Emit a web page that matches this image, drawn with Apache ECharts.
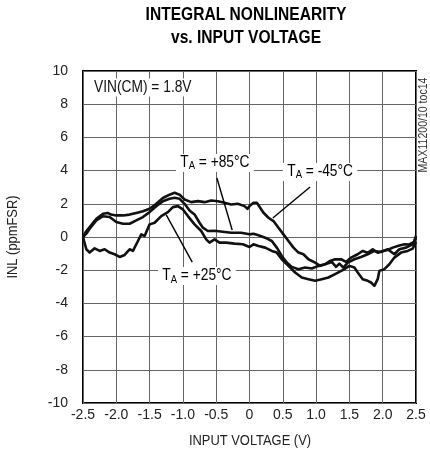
<!DOCTYPE html>
<html>
<head>
<meta charset="utf-8">
<script src="https://cdn.jsdelivr.net/npm/echarts@6/dist/echarts.min.js"></script>
<style>
  html, body { margin: 0; padding: 0; background: #fff; }
  #main { width: 430px; height: 464px; }
</style>
</head>
<body>
<div id="main"></div>
<script>
// x ticks / y ticks
const xTicks = [-2.5, 2.5, 0.5];
const yTicks = [-10, 10, 2];

// INL curves, [input voltage, INL]
const tMinus45 = [
  [-2.5, 0.0], [-2.46, 0.3], [-2.4, 0.6], [-2.3, 1.1], [-2.2, 1.4], [-2.13, 1.45], [-2.08, 1.35],
  [-2.0, 1.3], [-1.9, 1.3], [-1.8, 1.35], [-1.7, 1.45], [-1.6, 1.55], [-1.5, 1.7], [-1.4, 2.0],
  [-1.3, 2.35], [-1.2, 2.55], [-1.125, 2.66], [-1.05, 2.55], [-0.975, 2.26], [-0.875, 2.1],
  [-0.775, 2.16], [-0.675, 2.1], [-0.575, 2.2], [-0.475, 2.15], [-0.375, 2.06], [-0.275, 1.96],
  [-0.175, 2.0], [-0.075, 1.86], [-0.03, 1.7], [0.0, 1.86], [0.06, 2.06], [0.11, 2.06],
  [0.16, 1.76], [0.21, 1.46], [0.285, 1.16], [0.36, 0.96], [0.435, 0.56], [0.51, 0.16],
  [0.585, -0.24], [0.66, -0.64], [0.735, -0.94], [0.81, -1.04], [0.885, -1.34], [0.985, -1.54],
  [1.06, -1.74], [1.135, -1.64], [1.21, -1.44], [1.275, -1.35], [1.375, -1.34], [1.45, -1.5],
  [1.525, -1.24], [1.625, -1.04], [1.7, -0.84], [1.775, -0.95], [1.85, -0.74], [1.925, -0.95],
  [2.0, -0.84], [2.075, -0.78], [2.15, -0.64], [2.225, -0.54], [2.325, -0.44], [2.4, -0.45],
  [2.47, -0.3], [2.5, 0.06]
];
const tPlus85 = [
  [-2.5, 0.0], [-2.45, 0.2], [-2.4, 0.5], [-2.3, 1.0], [-2.2, 1.25], [-2.1, 1.2], [-2.0, 0.9],
  [-1.9, 0.8], [-1.8, 0.8], [-1.7, 1.0], [-1.6, 1.2], [-1.5, 1.5], [-1.4, 1.85], [-1.3, 2.15],
  [-1.2, 2.3], [-1.125, 2.36], [-1.05, 2.3], [-0.975, 2.0], [-0.9, 1.6], [-0.825, 1.36],
  [-0.75, 0.86], [-0.7, 0.56], [-0.625, 0.36], [-0.525, 0.38], [-0.4, 0.32], [-0.275, 0.26],
  [-0.125, 0.26], [0.0, 0.16], [0.06, 0.2], [0.135, 0.1], [0.235, -0.04], [0.335, -0.24],
  [0.41, -0.64], [0.485, -1.14], [0.56, -1.54], [0.635, -1.8], [0.735, -1.94], [0.835, -1.84],
  [0.935, -1.9], [1.035, -1.74], [1.135, -1.64], [1.235, -1.5], [1.3, -1.8], [1.35, -1.6],
  [1.41, -1.85], [1.475, -1.54], [1.575, -1.34], [1.675, -1.2], [1.775, -1.04], [1.875, -0.84],
  [1.975, -0.9], [2.075, -0.74], [2.175, -1.04], [2.25, -0.74], [2.35, -0.64], [2.45, -0.44],
  [2.5, -0.04]
];
const tPlus25 = [
  [-2.5, 0.0], [-2.485, -0.1], [-2.45, -0.74], [-2.4, -0.94], [-2.325, -0.68], [-2.25, -0.84],
  [-2.175, -0.74], [-2.1, -0.94], [-2.025, -1.04], [-1.95, -1.2], [-1.875, -1.08], [-1.8, -0.74],
  [-1.75, -0.84], [-1.675, -0.24], [-1.625, 0.16], [-1.575, 0.06], [-1.5, 0.76], [-1.425, 0.86],
  [-1.325, 1.26], [-1.225, 1.5], [-1.15, 1.8], [-1.075, 1.86], [-1.0, 1.66], [-0.925, 1.26],
  [-0.825, 0.76], [-0.725, 0.36], [-0.65, -0.14], [-0.6, -0.34], [-0.525, -0.14], [-0.45, -0.34],
  [-0.35, -0.34], [-0.225, -0.4], [-0.1, -0.44], [0.0, -0.6], [0.06, -0.44], [0.135, -0.54],
  [0.235, -0.64], [0.335, -0.84], [0.41, -0.94], [0.485, -1.34], [0.585, -1.74], [0.685, -2.14],
  [0.785, -2.44], [0.885, -2.54], [0.985, -2.64], [1.085, -2.54], [1.185, -2.44], [1.285, -2.24],
  [1.4, -2.0], [1.5, -1.74], [1.575, -1.84], [1.625, -2.14], [1.7, -2.54], [1.775, -2.64],
  [1.825, -2.74], [1.875, -2.94], [1.925, -2.54], [1.95, -2.04], [2.025, -1.94], [2.1, -1.64],
  [2.175, -1.24], [2.275, -0.94], [2.375, -0.84], [2.45, -0.7], [2.5, -0.3]
];

// labels: [text key, x, y] in data units, arrows: [from, to]
const labels = [
  ['+85', -0.52, 4.46],
  ['-45', 1.06, 3.92],
  ['+25', -0.79, -2.35]
];
const arrows = [
  [[-0.49, 3.55], [-0.26, 0.42]],
  [[0.91, 3.01], [0.35, 1.14]],
  [[-0.86, -1.51], [-1.25, 1.33]]
];

const FONT = "'Liberation Sans', Arial, sans-serif";
const SQ = 0.86; // horizontal squeeze, the original uses a narrow face

const chart = echarts.init(document.getElementById('main'));

function lineSeries(name, data) {
  return {
    name: name,
    type: 'line',
    data: data,
    showSymbol: false,
    lineStyle: { color: '#111', width: 2.6, join: 'round' },
    z: 3
  };
}

const option = {
  animation: false,
  backgroundColor: '#fff',
  grid: {
    left: 83, right: 14, top: 71, bottom: 61,
    show: true,
    borderColor: '#000',
    borderWidth: 2
  },
  xAxis: {
    type: 'value',
    min: xTicks[0], max: xTicks[1], interval: xTicks[2],
    axisLine: { show: false },
    axisTick: { show: false },
    axisLabel: {
      fontFamily: FONT, fontSize: 14, color: '#222', margin: 5,
      formatter: v => v === 0 ? '0' : v.toFixed(1)
    },
    splitLine: { show: true, lineStyle: { color: '#666', width: 1 } }
  },
  yAxis: {
    type: 'value',
    min: yTicks[0], max: yTicks[1], interval: yTicks[2],
    axisLine: { show: false },
    axisTick: { show: false },
    axisLabel: { fontFamily: FONT, fontSize: 14, color: '#222', margin: 15 },
    splitLine: { show: true, lineStyle: { color: '#666', width: 1 } }
  },
  series: [
    lineSeries('TA = -45°C', tMinus45),
    lineSeries('TA = +85°C', tPlus85),
    lineSeries('TA = +25°C', tPlus25),
    {
      type: 'line',
      data: [],
      markLine: {
        silent: true,
        symbol: ['none', 'arrow'],
        symbolSize: [0, 13],
        label: { show: false },
        lineStyle: { color: '#000', width: 1.4, type: 'solid' },
        data: arrows.map(a => [{ coord: a[0] }, { coord: a[1] }])
      }
    }
  ]
};

chart.setOption(option);

// text placed through the axes, squeezed horizontally
const rich = {
  t: { fontFamily: FONT, fontSize: 16, color: '#111', lineHeight: 18 },
  s: { fontFamily: FONT, fontSize: 11, color: '#111', lineHeight: 18, padding: [7, 0, 0, 0] }
};
const g = labels.map(l => {
  const p = chart.convertToPixel({ seriesIndex: 0 }, [l[1], l[2]]);
  return {
    type: 'text',
    x: p[0], y: p[1], scaleX: SQ,
    z: 10,
    style: {
      text: '{t|T}{s|A}{t| = ' + l[0] + '°C}',
      rich: rich,
      align: 'center',
      verticalAlign: 'middle',
      backgroundColor: '#fff',
      padding: [0, 5]
    }
  };
});
const vin = chart.convertToPixel({ seriesIndex: 0 }, [-2.36, 9.0]);
g.push({
  type: 'text', x: vin[0], y: vin[1], z: 10, scaleX: SQ,
  style: {
    text: 'VIN(CM) = 1.8V', font: '16px ' + FONT, fill: '#111',
    align: 'left', verticalAlign: 'middle', backgroundColor: '#fff', padding: [1, 2]
  }
});
// title
g.push({
  type: 'text', x: 246, y: 15, scaleX: 0.82, z: 10,
  style: { text: 'INTEGRAL NONLINEARITY', font: 'bold 19px ' + FONT, fill: '#000',
    align: 'center', verticalAlign: 'middle' }
});
g.push({
  type: 'text', x: 246, y: 38, scaleX: 0.82, z: 10,
  style: { text: 'vs. INPUT VOLTAGE', font: 'bold 19px ' + FONT, fill: '#000',
    align: 'center', verticalAlign: 'middle' }
});
// axis names
g.push({
  type: 'text', x: 250, y: 441, scaleX: SQ, z: 10,
  style: { text: 'INPUT VOLTAGE (V)', font: '15px ' + FONT, fill: '#222',
    align: 'center', verticalAlign: 'middle' }
});
g.push({
  type: 'text', x: 13, y: 237, rotation: Math.PI / 2, scaleX: SQ, z: 10,
  style: { text: 'INL (ppmFSR)', font: '15px ' + FONT, fill: '#222',
    align: 'center', verticalAlign: 'middle' }
});
g.push({
  type: 'text', x: 424, y: 125, rotation: Math.PI / 2, scaleX: 0.88, z: 10,
  style: { text: 'MAX11200/10 toc14', font: '12px ' + FONT, fill: '#333',
    align: 'center', verticalAlign: 'middle' }
});
chart.setOption({ graphic: g });
</script>
</body>
</html>
